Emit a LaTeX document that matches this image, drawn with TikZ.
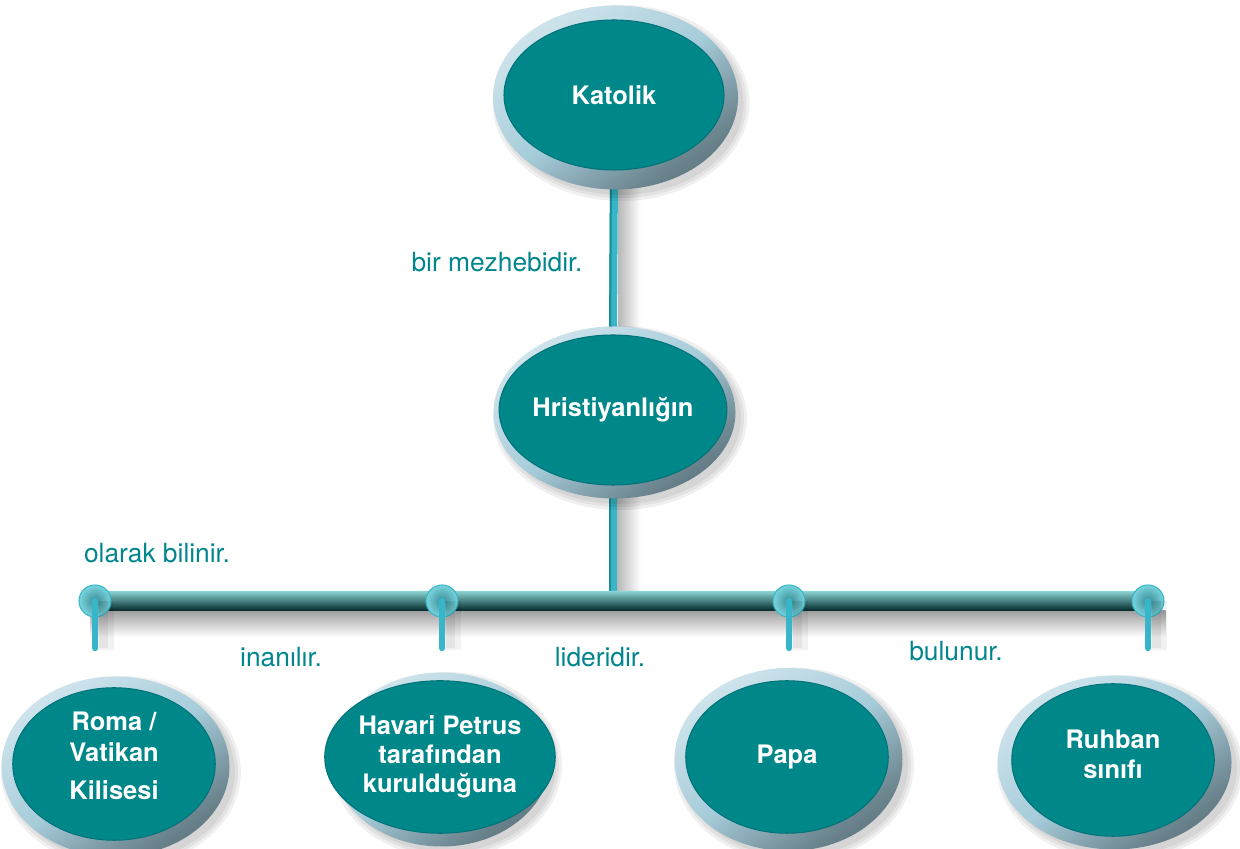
\documentclass[tikz,border=0pt]{standalone}
\usepackage{fontspec}
\setmainfont{TeX Gyre Heros}
\usetikzlibrary{shapes,positioning,calc}

\definecolor{tealfill}{HTML}{00878A}
\definecolor{tealedge}{HTML}{007478}
\definecolor{tealtext}{HTML}{00868C}
\definecolor{ringlight}{HTML}{EAF4F8}
\definecolor{ringmid}{HTML}{A6CCDA}
\definecolor{ringdark}{HTML}{36444A}
\definecolor{stemcol}{HTML}{36B6C8}
\definecolor{stemdark}{HTML}{1C8C98}
\definecolor{barlight}{HTML}{8AD4D4}
\definecolor{barmid}{HTML}{0F8787}
\definecolor{bardark}{HTML}{022628}
\definecolor{knobin}{HTML}{3C8C92}
\definecolor{knobout}{HTML}{78D4DE}

\pgfdeclareverticalshading{ringshade}{100bp}{color(0bp)=(ringdark); color(28bp)=(ringdark!55!ringmid); color(50bp)=(ringmid); color(75bp)=(ringmid!40!ringlight); color(100bp)=(ringlight)}

\pgfdeclarelayer{bg}
\pgfdeclarelayer{rings}
\pgfsetlayers{bg,rings,main}

\begin{document}
\begin{tikzpicture}[
    bubble/.style={ellipse, fill=tealfill, draw=tealedge, line width=0.6pt, text=white, align=center, inner sep=0pt, font=\bfseries\fontsize{14.5}{17.5}\selectfont},
    big/.style={bubble, minimum width=4.4cm, minimum height=3.0cm},
    small/.style={bubble, minimum width=4.05cm, minimum height=3.05cm},
    rel/.style={text=tealtext, font=\fontsize{15}{18}\selectfont},
    stem/.style={stemcol, line width=0.16cm},
    knob/.style={circle, minimum size=0.64cm, inner sep=0pt, inner color=knobin, outer color=knobout, draw=stemcol, line width=0.6pt},
    pin/.style={stemcol, line width=0.13cm, line cap=round}
]
    \useasboundingbox (0,0) rectangle (24.8,16.98);

    \node[big] (kat) at (12.28,15.08) {Katolik};
    \node[big] (hri) at (12.26,8.78) {Hristiyanlığın};
    \node[small] (rom) at (2.28,1.70) {Roma /\\Vatikan\\[4pt]Kilisesi\\[-8pt]};
    \node[small] (hav) at (8.80,1.84) {Havari Petrus\\[-1pt]tarafından\\[-1pt]kurulduğuna};
    \node[small] (pap) at (15.74,1.84) {Papa};
    \node[small] (ruh) at (22.26,1.78) {Ruhban\\sınıfı\\[-11pt]};

    \node[rel] (lmez) at (9.94,11.74) {bir mezhebidir.};
    \node[rel] (lbil) at (3.14,5.92) {olarak bilinir.};
    \node[rel] (lina) at (5.62,3.84) {inanılır.};
    \node[rel] (llid) at (12.00,3.84) {lideridir.};
    \node[rel] (lbul) at (19.12,3.96) {bulunur.};

    % knobs on the bar
    \node[knob] (k1) at (1.90,4.96) {};
    \node[knob] (k2) at (8.84,4.96) {};
    \node[knob] (k3) at (15.78,4.96) {};
    \node[knob] (k4) at (22.96,4.96) {};
    \coordinate (joint) at (hri.south |- k1);

    \foreach \k in {1,...,4} {
        \coordinate (p\k) at ([yshift=-0.94cm]k\k.center);
        \draw[black, opacity=0.05, line width=0.36cm] ([xshift=0.2cm]k\k.center) -- ([xshift=0.2cm, yshift=-0.05cm]p\k);
        \draw[black, opacity=0.06, line width=0.18cm] ([xshift=0.16cm]k\k.center) -- ([xshift=0.16cm]p\k);
        \draw[pin] (k\k.center) -- (p\k);
    }

    \begin{pgfonlayer}{rings}
        \foreach \n/\rx/\ry in {kat/2.45/1.84, hri/2.42/1.72, rom/2.28/1.80, hav/2.18/1.74, pap/2.28/1.83, ruh/2.34/1.74} {
            \foreach \k in {0,1,2}
                \fill[black, opacity=0.06] ($(\n.center)+(0.14,-0.16)$) ellipse [x radius={\rx+\k*0.06}, y radius={\ry+\k*0.06}];
            \shade[shading=ringshade, shading angle=35] ($(\n.center)+(0.03,-0.05)$) ellipse [x radius=\rx, y radius=\ry];
        }
    \end{pgfonlayer}

    \begin{pgfonlayer}{bg}
        % stems and their shadows
        \shade[left color=black!28, right color=white] ([xshift=0.08cm]kat.south) rectangle ([xshift=0.55cm]hri.north);
        \shade[left color=black!28, right color=white] ([xshift=0.08cm]hri.south) rectangle ([xshift=0.55cm]joint);
        \draw[stem] (kat.south) -- (hri.north);
        \draw[stem] (hri.south) -- (joint);
        \draw[stemdark, line width=0.04cm] ([xshift=-0.06cm]kat.south) -- ([xshift=-0.06cm]hri.north);
        \draw[stemdark, line width=0.04cm] ([xshift=-0.06cm]hri.south) -- ([xshift=-0.06cm]joint);

        % bar with its shadow
        \shade[top color=black!38, bottom color=white] ([xshift=-0.1cm, yshift=-0.19cm]k1.center) rectangle ([xshift=0.35cm, yshift=-0.72cm]k4.center);
        \shade[top color=barlight, middle color=barmid, bottom color=bardark, rounded corners=0.15cm] ([yshift=0.2cm]k1.center) rectangle ([xshift=0.3cm, yshift=-0.2cm]k4.center);
    \end{pgfonlayer}
\end{tikzpicture}
\end{document}
